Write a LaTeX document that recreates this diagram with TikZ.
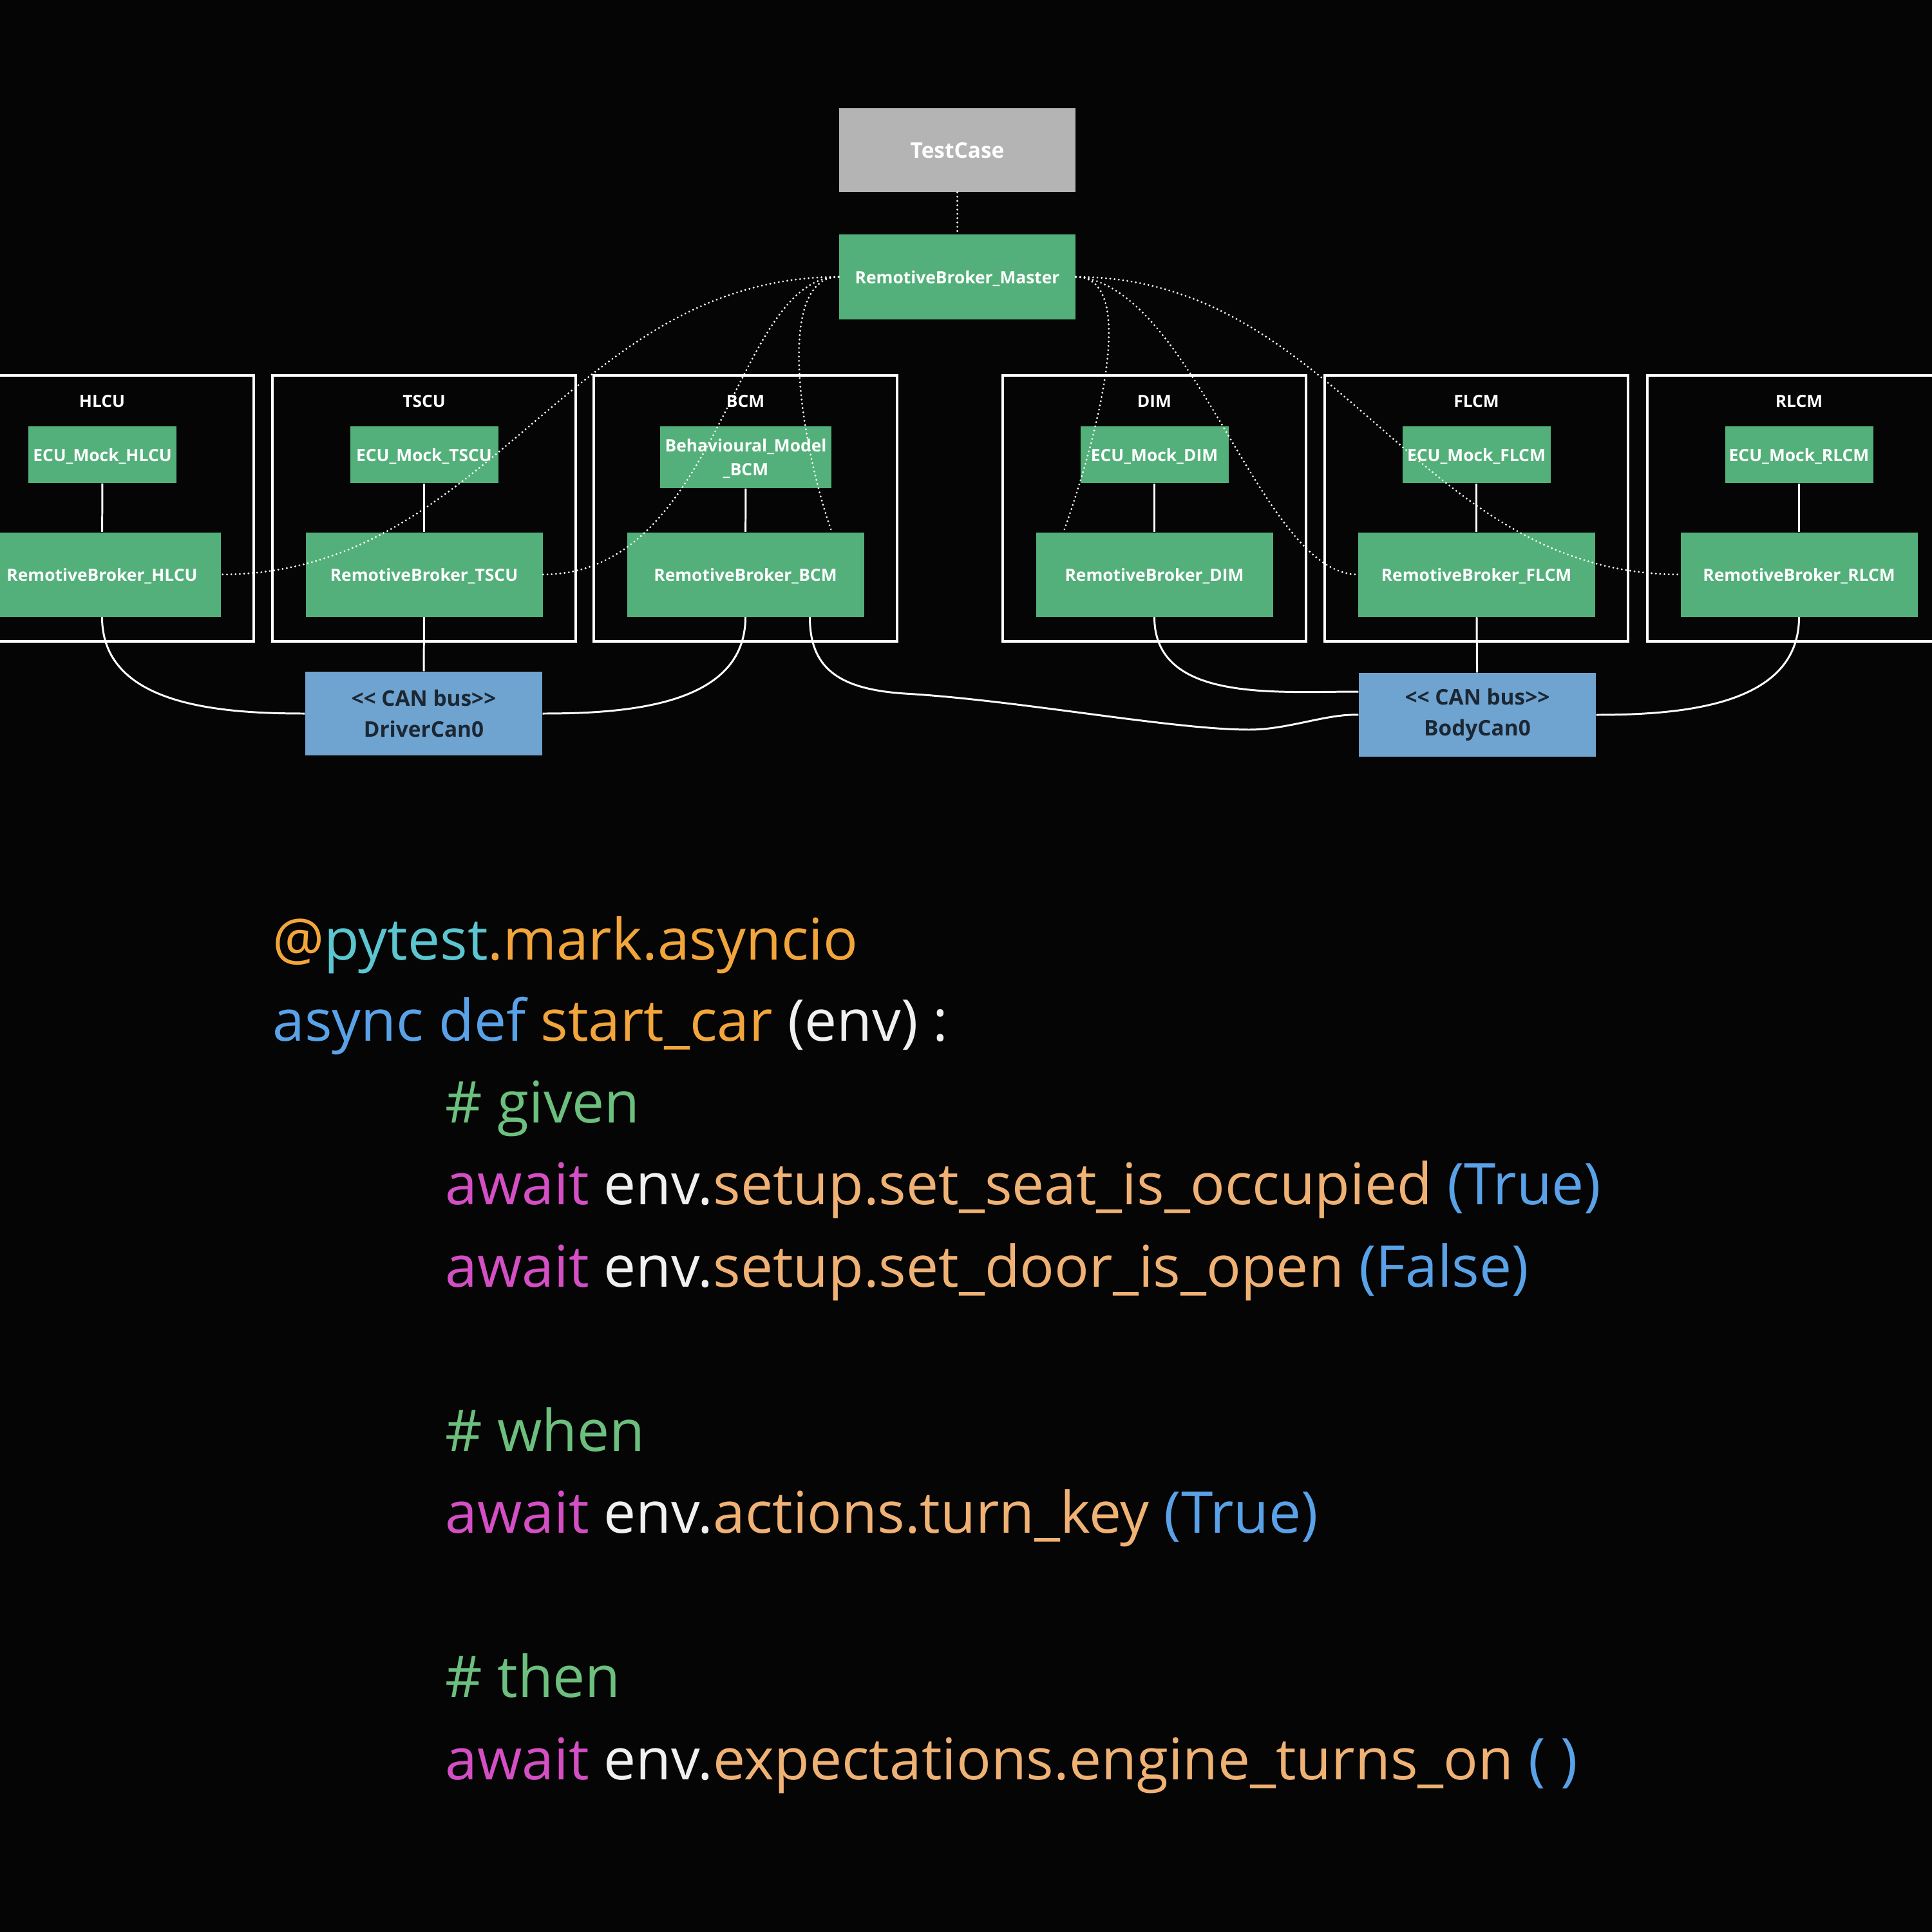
\documentclass[tikz,border=0pt]{standalone}
\usepackage{fontspec}
\setmainfont{Open Sans}

\definecolor{bgblack}{HTML}{050505}
\definecolor{brokergreen}{HTML}{53B07A}
\definecolor{casegrey}{HTML}{B4B4B4}
\definecolor{canblue}{HTML}{6FA3D0}
\definecolor{cantext}{HTML}{1B2733}
\definecolor{decoorange}{HTML}{F2A53B}
\definecolor{pyteal}{HTML}{5CC6D0}
\definecolor{keyblue}{HTML}{5AA2E8}
\definecolor{awaitpink}{HTML}{D44FC4}
\definecolor{callorange}{HTML}{F0B274}
\definecolor{commentgreen}{HTML}{6CBF7D}
\definecolor{plainwhite}{HTML}{F0F0F0}

\tikzset{
	greenbox/.style={fill=brokergreen, text=white, inner sep=0pt, text depth=0pt,
		font=\bfseries\fontsize{7.5}{10.3}\selectfont},
	ecubox/.style={greenbox, minimum width=2.3cm, minimum height=0.88cm},
	brokerbox/.style={greenbox, minimum width=3.68cm, minimum height=1.31cm},
	ecuframe/.style={draw=white, line width=1.1pt, minimum width=4.71cm, minimum height=4.13cm},
	frametitle/.style={text=white, font=\bfseries\fontsize{7.5}{9}\selectfont},
	canbox/.style={fill=canblue, text=cantext, align=center, inner sep=0pt,
		minimum width=3.68cm, minimum height=1.30cm,
		font=\bfseries\fontsize{9.5}{13.5}\selectfont},
	wire/.style={draw=white, line width=0.85pt},
	dotwire/.style={draw=white, line width=0.9pt, line cap=round, dash pattern=on 0pt off 1.9pt},
	codeline/.style={anchor=base west, inner sep=0pt, font=\fontsize{25.4}{30}\selectfont}
}

\begin{document}
\begin{tikzpicture}
		\fill[bgblack] (0,0) rectangle (30,-30);
		\useasboundingbox (0,0) rectangle (30,-30);
		%% The ECU Frames with their Brokers
		\foreach \name/\x in {HLCU/1.585, TSCU/6.585, BCM/11.575, DIM/17.925, FLCM/22.925, RLCM/27.935}{
			\node[ecuframe] (frame-\name) at (\x,-7.895) {};
			\node[frametitle] (title-\name) at (\x,-6.23) {\name};
			\node[brokerbox] (rb-\name) at (\x,-8.92) {RemotiveBroker\_\name};
		}
		%% Mocks (the BCM has a model instead)
		\foreach \name/\x in {HLCU/1.59, TSCU/6.585, DIM/17.925, FLCM/22.925, RLCM/27.935}
			\node[ecubox] (ecu-\name) at (\x,-7.06) {ECU\_Mock\_\name};
		\node[ecubox, minimum width=2.66cm, minimum height=0.96cm, align=center] (ecu-BCM)
			at (11.58,-7.10) {Behavioural\_Model\\\_BCM};
		\foreach \name in {HLCU, TSCU, BCM, DIM, FLCM, RLCM}
			\draw[wire] (ecu-\name) -- (rb-\name);
		%% Test Case and Master
		\node[greenbox, fill=casegrey, minimum width=3.67cm, minimum height=1.30cm,
			font=\bfseries\fontsize{9.5}{11}\selectfont] (testcase) at (14.865,-2.33) {TestCase};
		\node[brokerbox, minimum width=3.67cm, minimum height=1.32cm] (master)
			at (14.865,-4.30) {RemotiveBroker\_Master};
		%% The Buses
		\node[canbox] (drivercan) at (6.58,-11.08) {<\kern0pt< CAN bus>\kern0pt>\\DriverCan0};
		\node[canbox] (bodycan) at (22.94,-11.10) {<\kern0pt< CAN bus>\kern0pt>\\BodyCan0};
		%% Invisibly defining the bends of the long wire
		\path
			(14.05,-10.77) coordinate (bcm-bend)
			(19.4,-11.33)  coordinate (bcm-dip);
		% bus wires
		\draw[wire] (rb-TSCU) -- (drivercan);
		\draw[wire] (rb-FLCM) -- (bodycan);
		\draw[wire] (rb-HLCU.south) to[out=-90,in=180] (drivercan.west);
		\draw[wire] (rb-BCM.south) to[out=-90,in=0] (drivercan.east);
		\draw[wire] ([xshift=1cm]rb-BCM.south) .. controls +(0,-0.78) and (13.0,-10.7) .. (bcm-bend)
				.. controls (15.8,-10.87) and (18.2,-11.33) .. (bcm-dip)
				.. controls (20.0,-11.33) and (20.6,-11.08) .. (bodycan.west);
		\draw[wire] (rb-DIM.south) to[out=-90,in=180] ([yshift=3.6mm]bodycan.west);
		\draw[wire] (rb-RLCM.south) to[out=-90,in=0] (bodycan.east);
		% master links (dotted)
		\draw[dotwire] (testcase) -- (master);
		\draw[dotwire] (master.west) to[out=180,in=0] (rb-HLCU.east);
		\draw[dotwire] (master.west) .. controls +(-1.63,0) and +(2.76,0) .. (rb-TSCU.east);
		\draw[dotwire] (master.west) .. controls +(-1.03,0) and +(-0.45,1.26) .. ([xshift=1.34cm]rb-BCM.north);
		\draw[dotwire] (master.east) .. controls +(1.03,0) and +(0.45,1.26) .. ([xshift=-1.41cm]rb-DIM.north);
		\draw[dotwire] (master.east) .. controls +(1.8,-0.1) and +(-1.5,0) .. (rb-FLCM.west);
		\draw[dotwire] (master.east) to[out=0,in=180] (rb-RLCM.west);
		%% The Test Code
		\node[codeline] (code1) at (4.23,-14.90)
			{\textcolor{decoorange}{@}\textcolor{pyteal}{pytest}\textcolor{decoorange}{.mark.asyncio}};
		\node[codeline] (code2) at (4.23,-16.16)
			{\textcolor{keyblue}{async def} \textcolor{decoorange}{start\_car} \textcolor{plainwhite}{(env) :}};
		\node[codeline, text=commentgreen] (code3) at (6.91,-17.43) {\# given};
		\node[codeline] (code4) at (6.91,-18.70)
			{\textcolor{awaitpink}{await} \textcolor{plainwhite}{env.}\textcolor{callorange}{setup.set\_seat\_is\_occupied} \textcolor{keyblue}{(True)}};
		\node[codeline] (code5) at (6.91,-19.98)
			{\textcolor{awaitpink}{await} \textcolor{plainwhite}{env.}\textcolor{callorange}{setup.set\_door\_is\_open} \textcolor{keyblue}{(False)}};
		\node[codeline, text=commentgreen] (code7) at (6.91,-22.53) {\# when};
		\node[codeline] (code8) at (6.91,-23.80)
			{\textcolor{awaitpink}{await} \textcolor{plainwhite}{env.}\textcolor{callorange}{actions.turn\_key} \textcolor{keyblue}{(True)}};
		\node[codeline, text=commentgreen] (code10) at (6.91,-26.35) {\# then};
		\node[codeline] (code11) at (6.91,-27.63)
			{\textcolor{awaitpink}{await} \textcolor{plainwhite}{env.}\textcolor{callorange}{expectations.engine\_turns\_on} \textcolor{keyblue}{( )}};
	\end{tikzpicture}
\end{document}
